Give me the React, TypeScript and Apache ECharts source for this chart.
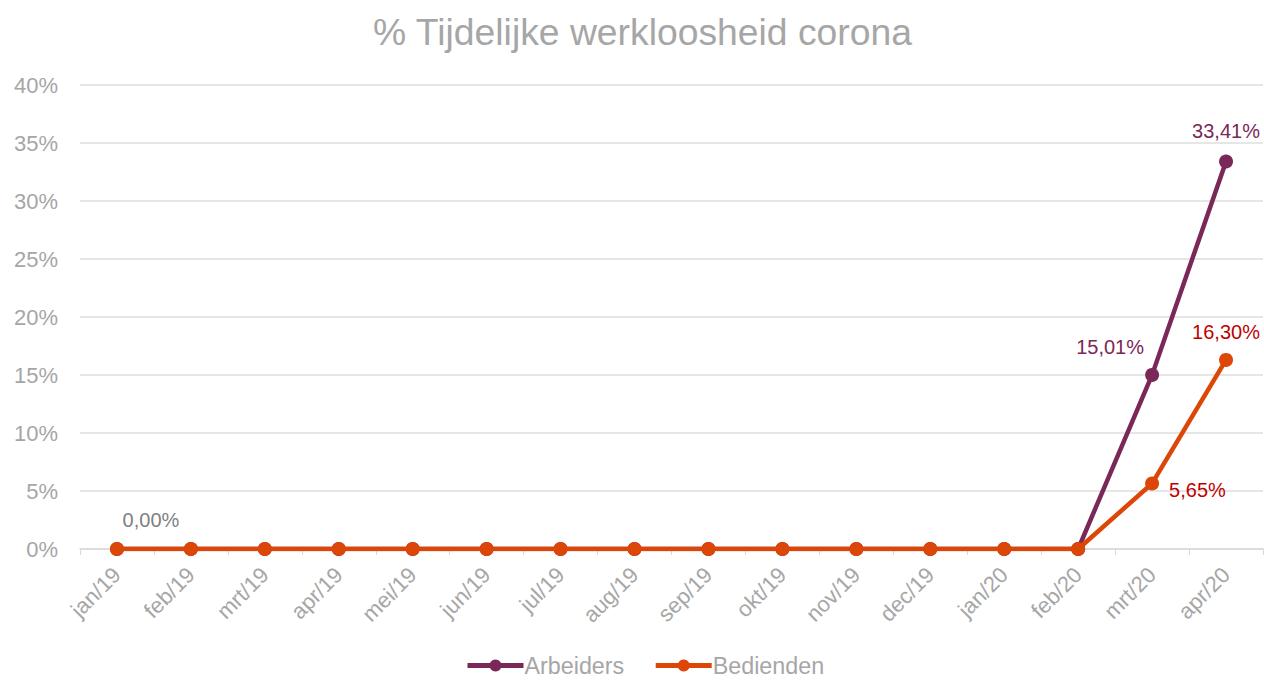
import React, { useEffect, useRef } from "react";
import * as echarts from "echarts";

const categories = ["jan/19", "feb/19", "mrt/19", "apr/19", "mei/19", "jun/19", "jul/19", "aug/19", "sep/19", "okt/19", "nov/19", "dec/19", "jan/20", "feb/20", "mrt/20", "apr/20"];
const arbeiders = [0, 0, 0, 0, 0, 0, 0, 0, 0, 0, 0, 0, 0, 0, 15.01, 33.41];
const bedienden = [0, 0, 0, 0, 0, 0, 0, 0, 0, 0, 0, 0, 0, 0, 5.65, 16.3];
const yTicks = [0, 5, 10, 15, 20, 25, 30, 35, 40];

const PURPLE = "#7a2857";
const ORANGE = "#dc4606";
const GRAY = "#a6a6a6";
const FONT = "Liberation Sans";

const fmt = (v: number) => v.toFixed(2).replace(".", ",") + "%";

export default function App() {
  const ref = useRef<HTMLDivElement>(null);
  useEffect(() => {
    document.body.style.margin = "0";
    const chart = echarts.init(ref.current!, null, { renderer: "svg" });
    const arbData = arbeiders.map((v, i) => {
      if (i === 0) return { value: v, label: { show: true, position: "top", offset: [34, -7], color: "#7f7f7f" } };
      if (i === 14) return { value: v, label: { show: true, position: "top", offset: [-42, -6] } };
      if (i === 15) return { value: v, label: { show: true, position: "top", offset: [0, -8] } };
      return v;
    });
    const bedData = bedienden.map((v, i) => {
      if (i === 14) return { value: v, label: { show: true, position: "right", offset: [5, 7] } };
      if (i === 15) return { value: v, label: { show: true, position: "top", offset: [0, -6] } };
      return v;
    });
    chart.setOption({
      animation: false,
      textStyle: { fontFamily: FONT },
      title: {
        text: "% Tijdelijke werkloosheid corona",
        left: 368,
        top: 8,
        textStyle: { color: GRAY, fontSize: 37.3, fontWeight: "normal", fontFamily: FONT },
      },
      grid: { left: 80, right: 1, top: 85, bottom: 133, containLabel: false },
      legend: {
        bottom: 0,
        left: 460,
        itemWidth: 56,
        itemHeight: 15,
        itemGap: 29,
        lineStyle: { width: 5 },
        textStyle: { color: GRAY, fontSize: 23.3, fontFamily: FONT, padding: [0, 0, 0, -4] },
        data: ["Arbeiders", "Bedienden"],
      },
      xAxis: {
        type: "category",
        data: categories,
        boundaryGap: true,
        axisLine: { lineStyle: { color: "#d9d9d9", width: 1.5 } },
        axisTick: { show: true, length: 6, lineStyle: { color: "#d9d9d9" } },
        axisLabel: { rotate: 45, color: GRAY, fontSize: 22, fontFamily: FONT, margin: 22 },
      },
      yAxis: {
        type: "value",
        min: 0,
        max: 40,
        interval: 5,
        axisLine: { show: false },
        axisTick: { show: false },
        splitLine: { lineStyle: { color: "#e6e6e6", width: 2 } },
        axisLabel: {
          color: GRAY,
          fontSize: 22,
          fontFamily: FONT,
          margin: 22,
          formatter: (v: number) => (yTicks.includes(v) ? v + "%" : ""),
        },
      },
      series: [
        {
          name: "Arbeiders",
          type: "line",
          data: arbData,
          symbol: "circle",
          symbolSize: 14,
          itemStyle: { color: PURPLE },
          lineStyle: { color: PURPLE, width: 4.5 },
          label: { show: false, color: PURPLE, fontSize: 20, fontFamily: FONT, formatter: (p: any) => fmt(p.value) },
          z: 2,
        },
        {
          name: "Bedienden",
          type: "line",
          data: bedData,
          symbol: "circle",
          symbolSize: 14,
          itemStyle: { color: ORANGE },
          lineStyle: { color: ORANGE, width: 4.5 },
          label: { show: false, color: "#c00000", fontSize: 20, fontFamily: FONT, formatter: (p: any) => fmt(p.value) },
          z: 3,
        },
      ],
    });
    return () => chart.dispose();
  }, []);
  return <div ref={ref} style={{ width: 1264, height: 682 }} />;
}
